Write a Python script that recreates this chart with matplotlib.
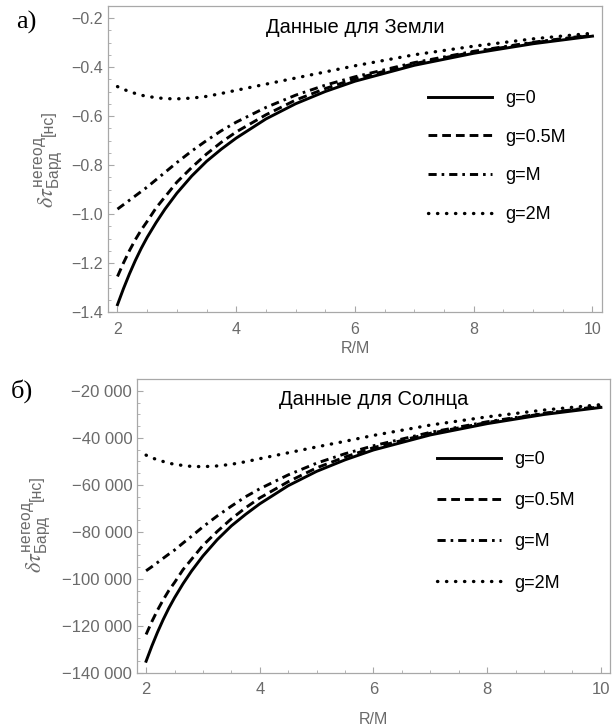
import matplotlib
matplotlib.use('Agg')
import matplotlib.pyplot as plt
from matplotlib.ticker import FuncFormatter, MultipleLocator

plt.rcParams['font.family'] = ['Liberation Sans', 'DejaVu Sans']
plt.rcParams['mathtext.fontset'] = 'stix'

# R/M
r_vals = [2, 2.1, 2.2, 2.3, 2.4, 2.5, 2.65, 2.8, 3, 3.25, 3.5, 3.75, 4, 4.5, 5, 5.5, 6, 7, 8, 9, 10]

# а) Земля, нс
earth_g0 = [-1.37, -1.305, -1.245, -1.19, -1.14, -1.095, -1.035, -0.98, -0.915, -0.845, -0.785,
            -0.735, -0.69, -0.612, -0.55, -0.5, -0.458, -0.393, -0.344, -0.305, -0.274]
earth_g05 = [-1.255, -1.2, -1.15, -1.105, -1.065, -1.03, -0.975, -0.93, -0.87, -0.81, -0.755,
             -0.707, -0.665, -0.595, -0.535, -0.488, -0.448, -0.386, -0.339, -0.301, -0.271]
earth_g1 = [-0.98, -0.962, -0.944, -0.926, -0.908, -0.89, -0.86, -0.83, -0.79, -0.743, -0.70,
            -0.66, -0.625, -0.565, -0.515, -0.474, -0.44, -0.382, -0.336, -0.299, -0.269]
earth_g2 = [-0.48, -0.491, -0.5, -0.508, -0.515, -0.52, -0.525, -0.529, -0.53, -0.527, -0.52,
            -0.508, -0.495, -0.47, -0.445, -0.42, -0.395, -0.35, -0.315, -0.285, -0.262]

# б) Солнце, нс
sun_g0 = [-135000, -128600, -122700, -117300, -112400, -108000, -102000, -96600, -90200, -83300,
          -77400, -72500, -68000, -60300, -54200, -49300, -45100, -38700, -33900, -30000, -27000]
sun_g05 = [-123600, -118200, -113300, -108900, -104900, -101500, -96000, -91600, -85700, -79800,
           -74400, -69700, -65500, -58600, -52700, -48100, -44100, -38000, -33400, -29600, -26700]
sun_g1 = [-96500, -94800, -93000, -91200, -89400, -87700, -84700, -81800, -77800, -73200,
          -69000, -65000, -61600, -55700, -50700, -46700, -43300, -37600, -33100, -29500, -26500]
sun_g2 = [-47300, -48400, -49300, -50000, -50700, -51200, -51700, -52100, -52200, -51900,
          -51200, -50100, -48800, -46300, -43800, -41400, -38900, -34500, -31000, -28100, -25800]

labels = ['g=0', 'g=0.5M', 'g=M', 'g=2M']
styles = ['-', (0, (3.0, 1.7)), (0, (2.8, 1.7, 0.9, 1.7)), (0, (0.1, 2.6))]
widths = [2.1, 2.1, 2.1, 2.4]

earth_ticks = [-1.4, -1.2, -1.0, -0.8, -0.6, -0.4, -0.2]
sun_ticks = [-140000, -120000, -100000, -80000, -60000, -40000, -20000]
x_ticks = [2, 4, 6, 8, 10]

W, H = 616, 728
frame_col = '#a8a8a8'
text_col = '#6a6a6a'


def fmt_earth(v, pos):
    return f'{v:.1f}'.replace('-', '\u2212')


def fmt_sun(v, pos):
    s = f'{abs(int(round(v))):,}'.replace(',', ' ')
    return ('\u2212' + s) if v < 0 else s


fig = plt.figure(figsize=(W / 100, H / 100), dpi=100)
ax1 = fig.add_axes([108 / W, 1 - 312 / H, 494 / W, 306 / H])
ax2 = fig.add_axes([137 / W, 1 - 673 / H, 473 / W, 294 / H])


def setup(ax, series, ticks, ylim, minor, fmt, title, leg_xy, lsp, tsize, xpad, xlpad):
    for y, ls, lw, lab in zip(series, styles, widths, labels):
        ax.plot(r_vals, y, color='black', lw=lw, linestyle=ls, label=lab,
                dash_capstyle='round' if ls == styles[3] else 'butt')
    ax.set_xlim(1.84, 10.16)
    ax.set_ylim(*ylim)
    ax.set_xticks(x_ticks)
    ax.set_yticks(ticks)
    ax.xaxis.set_minor_locator(MultipleLocator(0.5))
    ax.yaxis.set_minor_locator(MultipleLocator(minor))
    ax.yaxis.set_major_formatter(FuncFormatter(fmt))
    for s in ax.spines.values():
        s.set_color(frame_col)
        s.set_linewidth(0.9)
    ax.tick_params(which='both', direction='in', colors=frame_col, labelcolor=text_col,
                   labelsize=tsize, top=False, right=False)
    ax.tick_params(which='major', length=4, width=0.8)
    ax.tick_params(which='minor', length=2.2, width=0.6)
    ax.tick_params(axis='x', pad=xpad)
    ax.set_xlabel('R/M', color=text_col, fontsize=11.5, labelpad=xlpad)
    ax.text(0.5, 0.93, title, transform=ax.transAxes, ha='center', va='center',
            fontsize=14.5, color='black')
    ax.legend(loc='upper left', bbox_to_anchor=leg_xy, bbox_transform=fig.transFigure,
              frameon=False, handlelength=3.55, handletextpad=0.75, labelspacing=lsp,
              borderpad=0, borderaxespad=0, fontsize=13)


setup(ax1, [earth_g0, earth_g05, earth_g1, earth_g2], earth_ticks, (-1.4, -0.151), 0.05,
      fmt_earth, 'Данные для Земли', (428 / W, 1 - 90 / H), 1.2, 11.5, 7, 3)
setup(ax2, [sun_g0, sun_g05, sun_g1, sun_g2], sun_ticks, (-140000, -14900), 5000,
      fmt_sun, 'Данные для Солнца', (437 / W, 1 - 451 / H), 1.34, 12, 6.5, 11)

# подпись оси y: δτ с индексами и [нс] меньшим шрифтом
renderer = fig.canvas.get_renderer()


def ylabel(bx, cy):
    t1 = fig.text(bx / W, 0.5, r'$\delta\tau^{\mathregular{негеод}}_{\mathregular{Бард}}$',
                  rotation=90, rotation_mode='anchor', ha='left', va='baseline',
                  fontsize=16, color=text_col)
    t2 = fig.text(bx / W, 0.5, '[нс]', rotation=90, rotation_mode='anchor', ha='left',
                  va='baseline', fontsize=11.5, color=text_col)
    h1 = t1.get_window_extent(renderer).height
    h2 = t2.get_window_extent(renderer).height
    start = (H - cy) - (h1 + h2) / 2
    t1.set_position((bx / W, start / H))
    t2.set_position((bx / W, (start + h1) / H))


ylabel(53, 159)
ylabel(41, 524)

fig.text(26 / W, 1 - 22 / H, 'а)', family='Liberation Serif', fontsize=19, ha='center', va='center')
fig.text(22 / W, 1 - 391 / H, 'б)', family='Liberation Serif', fontsize=19, ha='center', va='center')

fig.savefig('out.png', dpi=100)
